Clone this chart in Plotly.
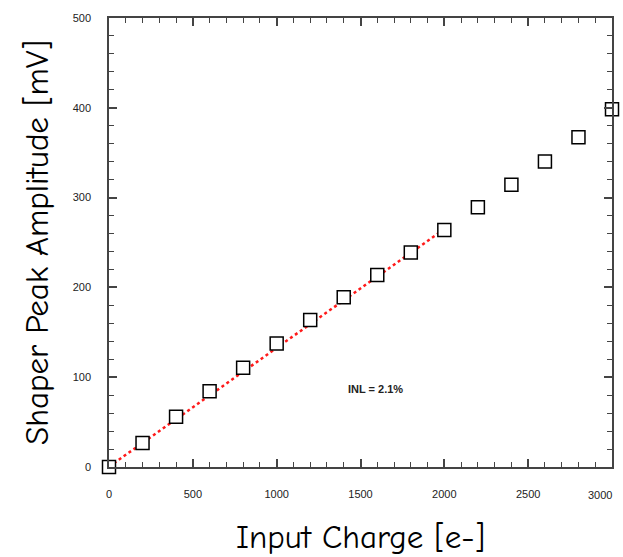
import plotly.graph_objects as go

charge = [0, 200, 400, 600, 800, 1000, 1200, 1400, 1600, 1800, 2000, 2200, 2400, 2600, 2800, 3000]
amplitude = [0, 26.7, 56, 84.3, 110.6, 137.4, 163.8, 189, 213.9, 238.8, 264, 289.3, 314.2, 340.2, 367.3, 398.5]
fit_x = [0, 2000]
fit_y = [0.3, 265]
x_ticks = [0, 500, 1000, 1500, 2000, 2500, 3000]
y_ticks = [0, 100, 200, 300, 400, 500]

# last x label is drawn right-aligned to the frame (as in the original) instead of centred
x_ticktext = [str(v) for v in x_ticks[:-1]] + [""]

tick_font = dict(family="Arial, Liberation Sans", size=11, color="#222")

fig = go.Figure()
fig.add_trace(go.Scatter(x=fit_x, y=fit_y, mode="lines",
                         line=dict(color="#ff1a1a", width=2.5, dash="dot"),
                         showlegend=False, cliponaxis=False))
fig.add_trace(go.Scatter(x=charge, y=amplitude, mode="markers",
                         marker=dict(symbol="square", size=13, color="white",
                                     line=dict(color="black", width=1.5)),
                         showlegend=False, cliponaxis=False))

fig.add_annotation(x=1590, y=87, text="<b>INL = 2.1%</b>", showarrow=False,
                   font=dict(family="Arial, Liberation Sans", size=11, color="#222"))
fig.add_annotation(x=x_ticks[-1], y=y_ticks[0], text=str(x_ticks[-1]), showarrow=False,
                   xanchor="right", yanchor="top", xshift=2, yshift=-20, font=tick_font)

axis_common = dict(showgrid=False, zeroline=False, showline=True, mirror="ticks",
                   linecolor="#444", linewidth=1.5, ticks="inside", ticklen=8,
                   tickwidth=1.5, tickcolor="#444", automargin=False,
                   ticklabeloverflow="allow", tickfont=tick_font)

title_font = dict(family="Comic Sans MS, Comic Neue, Noto Sans", size=33, color="black")

fig.update_xaxes(range=[0, 3000], tickvals=x_ticks, ticktext=x_ticktext, ticklabelstandoff=16,
                 minor=dict(dtick=100, ticks="inside", ticklen=5, tickcolor="#444", tickwidth=1.2),
                 title=dict(text="Input Charge [e-]", standoff=26, font=title_font),
                 **axis_common)
fig.update_yaxes(range=[0, 500], tickvals=y_ticks, ticklabelstandoff=14,
                 minor=dict(dtick=20, ticks="inside", ticklen=5, tickcolor="#444", tickwidth=1.2),
                 title=dict(text="Shaper Peak Amplitude [mV]", standoff=14, font=title_font),
                 **axis_common)

fig.update_layout(width=623, height=557, margin=dict(l=109, r=11, t=18, b=90),
                  plot_bgcolor="white", paper_bgcolor="white")

fig.write_html("out.html")
